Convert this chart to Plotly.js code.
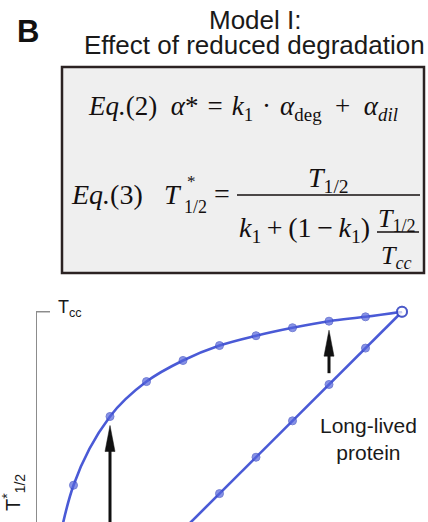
<!DOCTYPE html>
<html>
<head>
<meta charset="utf-8">
<script src="https://cdn.plot.ly/plotly-3.0.1.min.js"></script>
<style>
  html, body { margin: 0; padding: 0; background: #fff; }
  #chart { width: 428px; height: 522px; }
</style>
</head>
<body>
<div id="chart"></div>
<script>
// Protein half-life T1/2, in tenths of the cell-cycle time Tcc
const halfLife = [0, 1, 2, 3, 4, 5, 6, 7, 8, 9, 10];
// Apparent half-life T*1/2 when degradation is reduced
const apparentReduced = [0, 5.23, 7.12, 8.08, 8.66, 9.07, 9.34, 9.56, 9.74, 9.86, 10];
// Apparent half-life without any change (T*1/2 = T1/2)
const apparentUnchanged = [0, 1, 2, 3, 4, 5, 6, 7, 8, 9, 10];
// Single labelled tick on the vertical axis
const yTickVals = [10];
const yTickText = ['T<sub>cc</sub>'];
// Points marked with arrows (indices into halfLife)
const arrowIdx = [2, 8];

// ---- figure geometry --------------------------------------------------
const W = 428, H = 522;
const M = { l: 37, r: 7, t: 311, b: 0 };
const PW = W - M.l - M.r, PH = H - M.t - M.b;
const pxPerUnit = 36.5;
// pixel position -> paper coordinates
const px = x => (x - M.l) / PW;
const py = y => (H - M.b - y) / PH;

const blue = '#4a5ad6';
const blueFill = '#5565dc';
const axisGrey = '#8c8c8c';
const last = halfLife.length - 1;

function markerStyle() {
  return {
    size: halfLife.map((_, i) => i === last ? 10 : 8),
    color: halfLife.map((_, i) => i === last ? '#ffffff' : blueFill),
    line: {
      color: '#3a4ac4',
      width: halfLife.map((_, i) => i === last ? 2 : 1)
    }
  };
}

const traces = [
  {
    x: halfLife, y: apparentUnchanged,
    mode: 'lines+markers', type: 'scatter',
    line: { color: blue, width: 2.6 },
    marker: markerStyle(),
    cliponaxis: false, hoverinfo: 'skip'
  },
  {
    x: halfLife, y: apparentReduced,
    mode: 'lines+markers', type: 'scatter',
    line: { color: blue, width: 2.6, shape: 'spline', smoothing: 1 },
    marker: markerStyle(),
    cliponaxis: false, hoverinfo: 'skip'
  }
];

const serif = 'Liberation Serif, Times New Roman, serif';
const sans = 'Liberation Sans, Arial, sans-serif';
const ink = '#140f0f';

function txt(text, x, y, opts) {
  return Object.assign({
    text: text, xref: 'paper', yref: 'paper', x: px(x), y: py(y),
    xanchor: 'left', yanchor: 'middle', showarrow: false,
    font: { family: serif, size: 28, color: ink }
  }, opts || {});
}
const f = (size, family, color) => ({ family: family || serif, size: size, color: color || ink });

const annotations = [
  txt('<b>B</b>', 28, 31, { xanchor: 'center', font: f(31, sans, '#111') }),
  txt('Model I:', 255, 20, { xanchor: 'center', font: f(26, sans, '#1a1a1a') }),
  txt('Effect of reduced degradation', 254, 45, { xanchor: 'center', font: f(26, sans, '#1a1a1a') }),

  // Eq.(2)
  txt('<i>Eq.</i>(2)\u2002<i>α</i>*\u2004=\u2004<i>k</i><sub>1</sub>\u2004·\u2004<i>α</i><sub>deg</sub>\u2002+\u2002<i>α</i><sub><i>dil</i></sub>',
      86, 108, { font: f(27) }),

  // Eq.(3)
  txt('<i>Eq.</i>(3)', 69, 194),
  txt('<i>T</i>', 162, 194),
  txt('*', 185, 181, { font: f(17) }),
  txt('1/2', 182, 207, { font: f(18) }),
  txt('=', 212, 193),
  txt('<i>T</i><sub>1/2</sub>', 328, 179, { xanchor: 'center' }),
  txt('<i>k</i><sub>1</sub>\u2009+\u2009(1\u2009−\u2009<i>k</i><sub>1</sub>)', 237, 229),
  txt('<i>T</i><sub>1/2</sub>', 397, 220, { xanchor: 'center', font: f(26) }),
  txt('<i>T</i><sub><i>cc</i></sub>', 396, 257, { xanchor: 'center', font: f(26) }),

  // plot labels
  txt('Long-lived<br>protein', 368, 439, { xanchor: 'center', font: f(21, sans, '#1a1a1a') }),
  {
    text: yTickText[0], xref: 'paper', yref: 'y', x: px(56), y: yTickVals[0],
    xanchor: 'left', yanchor: 'middle', yshift: 3, showarrow: false,
    font: f(18, sans, '#1a1a1a')
  },
  txt('T<sup>*</sup><sub>1/2</sub>', 13, 493, {
    xanchor: 'center', textangle: -90, font: f(20, sans, '#1a1a1a')
  })
];

const shapes = [
  // equation panel
  { type: 'rect', xref: 'paper', yref: 'paper', x0: px(62), x1: px(424), y0: py(67), y1: py(273),
    fillcolor: '#efefef', line: { color: '#2b2222', width: 2.5 }, layer: 'below' },
  // fraction bars
  { type: 'line', xref: 'paper', yref: 'paper', x0: px(237), x1: px(420), y0: py(195), y1: py(195),
    line: { color: ink, width: 1.7 } },
  { type: 'line', xref: 'paper', yref: 'paper', x0: px(377), x1: px(419), y0: py(232), y1: py(232),
    line: { color: ink, width: 1.5 } }
];

// tick mark for each labelled value, pointing into the plot
yTickVals.forEach(v => {
  shapes.push({
    type: 'line', xref: 'paper', yref: 'y', x0: 0, x1: px(50), y0: v, y1: v,
    line: { color: axisGrey, width: 1.5 }
  });
});

// upward arrows pointing at the marked points
arrowIdx.forEach(i => {
  const base = {
    xref: 'x', yref: 'y', xsizemode: 'pixel', ysizemode: 'pixel',
    xanchor: halfLife[i], yanchor: apparentReduced[i], layer: 'above'
  };
  shapes.push(Object.assign({}, base, {
    type: 'line', x0: 0, x1: 0, y0: -30, y1: i === arrowIdx[0] ? -260 : -52,
    line: { color: '#111', width: 3 }
  }));
  shapes.push(Object.assign({}, base, {
    type: 'path', path: 'M0,-9 L-5,-35 L5,-35 Z',
    fillcolor: '#111', line: { color: '#111', width: 0.5 }
  }));
});

const layout = {
  width: W, height: H,
  margin: M,
  paper_bgcolor: '#ffffff', plot_bgcolor: '#ffffff',
  showlegend: false,
  xaxis: { range: [0, PW / pxPerUnit], visible: false, fixedrange: true },
  yaxis: {
    range: [10 - PH / pxPerUnit, 10.02], showgrid: false, zeroline: false,
    showline: true, linecolor: axisGrey, linewidth: 1.5,
    ticks: '', showticklabels: false, fixedrange: true
  },
  annotations: annotations,
  shapes: shapes
};

Plotly.newPlot('chart', traces, layout, { displayModeBar: false, staticPlot: true });
</script>
</body>
</html>
